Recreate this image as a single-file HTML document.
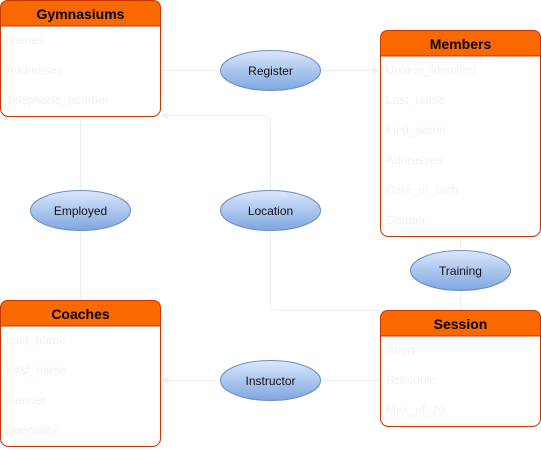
<!DOCTYPE html>
<html><head><style>html,body{margin:0;padding:0;background:#fff}svg{display:block}</style></head>
<body>
<svg width="541" height="450" xmlns="http://www.w3.org/2000/svg" font-family="Liberation Sans, Arial, sans-serif">
<defs>
<linearGradient id="g" x1="0" y1="0" x2="0" y2="1"><stop offset="0" stop-color="#dae8fc"/><stop offset="1" stop-color="#7ea6e0"/></linearGradient>
<marker id="a" markerWidth="8" markerHeight="8" refX="7" refY="4" orient="auto" markerUnits="userSpaceOnUse"><path d="M0,0 L8,4 L0,8 L2,4 Z" fill="#eee"/></marker>
</defs>
<g stroke="#eeeeee" stroke-width="1" fill="none">
<line x1="160" y1="70.5" x2="220" y2="70.5"/>
<line x1="320" y1="70.5" x2="378" y2="70.5" marker-end="url(#a)"/>
<line x1="80.5" y1="116" x2="80.5" y2="190"/>
<line x1="80.5" y1="230" x2="80.5" y2="300"/>
<path d="M270.5,190 V122 Q270.5,115.5 264,115.5 H162" marker-end="url(#a)"/>
<path d="M270.5,230 V304 Q270.5,310.5 277,310.5 H380"/>
<line x1="460.5" y1="236" x2="460.5" y2="250"/>
<line x1="460.5" y1="290" x2="460.5" y2="310"/>
<line x1="380" y1="380.5" x2="320" y2="380.5"/>
<line x1="220" y1="380.5" x2="162" y2="380.5" marker-end="url(#a)"/>
</g>
<g id="boxes">
<!-- Gymnasiums -->
<rect x="0.5" y="0.5" width="160" height="116" rx="8" fill="#fff" stroke="#c73500"/>
<path d="M0.5,26 V8.5 Q0.5,0.5 8.5,0.5 H152.5 Q160.5,0.5 160.5,8.5 V26 Z" fill="#fa6800" stroke="#c73500"/>
<text x="80.5" y="19" text-anchor="middle" font-weight="bold" font-size="14">Gymnasiums</text>
<!-- Members -->
<rect x="380.5" y="30.5" width="160" height="206" rx="8" fill="#fff" stroke="#c73500"/>
<path d="M380.5,56 V38.5 Q380.5,30.5 388.5,30.5 H532.5 Q540.5,30.5 540.5,38.5 V56 Z" fill="#fa6800" stroke="#c73500"/>
<text x="460.5" y="49" text-anchor="middle" font-weight="bold" font-size="14">Members</text>
<!-- Coaches -->
<rect x="0.5" y="300.5" width="160" height="146" rx="8" fill="#fff" stroke="#c73500"/>
<path d="M0.5,326 V308.5 Q0.5,300.5 8.5,300.5 H152.5 Q160.5,300.5 160.5,308.5 V326 Z" fill="#fa6800" stroke="#c73500"/>
<text x="80.5" y="319" text-anchor="middle" font-weight="bold" font-size="14">Coaches</text>
<!-- Session -->
<rect x="380.5" y="310.5" width="160" height="116" rx="8" fill="#fff" stroke="#c73500"/>
<path d="M380.5,336 V318.5 Q380.5,310.5 388.5,310.5 H532.5 Q540.5,310.5 540.5,318.5 V336 Z" fill="#fa6800" stroke="#c73500"/>
<text x="460.5" y="329" text-anchor="middle" font-weight="bold" font-size="14">Session</text>
</g>
<g fill="#f0f0f0" font-size="12">
<text x="6" y="44">Names</text><text x="6" y="74">Addresses</text><text x="6" y="104">Telephone_number</text>
<text x="386" y="74">Unique_identifier</text><text x="386" y="104">Last_name</text><text x="386" y="134">First_name</text><text x="386" y="164">Addresses</text><text x="386" y="194">Date_of_birth</text><text x="386" y="224">Gender</text>
<text x="6" y="344">Last_name</text><text x="6" y="374">First_name</text><text x="6" y="404">Gender</text><text x="6" y="434">Speciality</text>
<text x="386" y="354">Sport</text><text x="386" y="384">Schedule</text><text x="386" y="414">Max_of_20</text>
</g>
<g stroke="#6c8ebf" fill="url(#g)">
<ellipse cx="270.5" cy="70.5" rx="50" ry="20"/>
<ellipse cx="80.5" cy="210.5" rx="50" ry="20"/>
<ellipse cx="270.5" cy="210.5" rx="50" ry="20"/>
<ellipse cx="460.5" cy="270.5" rx="50" ry="20"/>
<ellipse cx="270.5" cy="380.5" rx="50" ry="20"/>
</g>
<g font-size="12" text-anchor="middle" fill="#111">
<text x="270.5" y="75">Register</text>
<text x="80.5" y="215">Employed</text>
<text x="270.5" y="215">Location</text>
<text x="460.5" y="275">Training</text>
<text x="270.5" y="385">Instructor</text>
</g>
</svg>
</body></html>
